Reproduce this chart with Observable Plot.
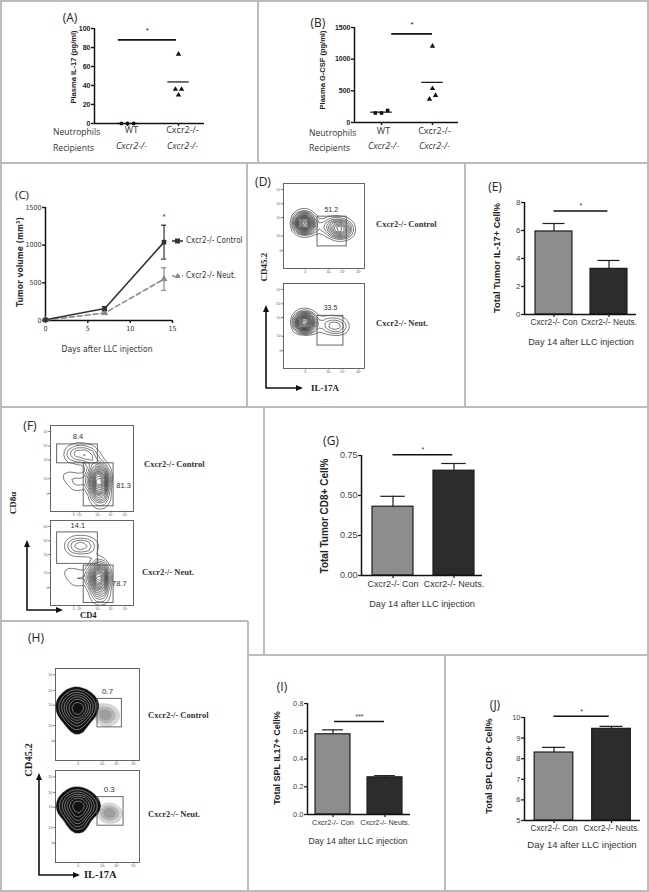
<!DOCTYPE html>
<html><head><meta charset="utf-8">
<script src="https://cdn.jsdelivr.net/npm/d3@7"></script>
<script src="https://cdn.jsdelivr.net/npm/@observablehq/plot@0.6"></script>
<style>
body{margin:0;background:#fff;}
#root{position:relative;width:649px;height:892px;overflow:hidden;background:#fff;}
.ln{position:absolute;background:#bcbcbc;}
.t{position:absolute;white-space:nowrap;line-height:1;}
</style></head><body><div id="root"></div>
<script>
const SANS = '"Liberation Sans", Arial, Helvetica, sans-serif';
const NARROW = '"Liberation Sans Narrow", "Arial Narrow", "DejaVu Sans Condensed", sans-serif';
const SERIF = '"Liberation Serif", "Times New Roman", serif';
const OPEN = '"Open Sans", "Noto Sans", sans-serif';

// ---------------- DATA ----------------
// (A) / (B) plasma cytokines
const donorGroups = ["WT", "Cxcr2-/-"];
const recipientGroups = ["Cxcr2-/-", "Cxcr2-/-"];
const il17WT = [0, 0, 0];
const il17KO = [73, 36, 36, 30];
const gcsfWT = [190, 150, 150];
const gcsfKO = [1205, 537, 427, 368];
const il17Ticks = [0, 20, 40, 60, 80, 100];
const gcsfTicks = [0, 500, 1000, 1500];
const il17Sig = [{from: -0.18, to: 0.96, y: 88, label: "*"}];
const gcsfSig = [{from: 0.2, to: 1.0, y: 1400, label: "*"}];

// (C) tumor growth
const days = [0, 7, 14];
const controlVolume = [10, 160, 1040];
const controlErr = [8, 25, 225];
const neutVolume = [5, 100, 550];
const neutErr = [5, 20, 150];
const volumeTicks = [0, 500, 1000, 1500];
const dayTicks = [0, 5, 10, 15];
const seriesNames = ["Cxcr2-/- Control", "Cxcr2-/- Neut."];

// bar panels (E, G, I, J)
const barCats = ["Cxcr2-/- Con", "Cxcr2-/- Neuts."];
const tumorIL17 = [5.93, 3.26], tumorIL17Err = [0.57, 0.6];
const tumorCD8 = [0.43, 0.655], tumorCD8Err = [0.065, 0.045];
const splIL17 = [0.578, 0.268], splIL17Err = [0.032, 0.012];
const splCD8 = [8.3, 9.45], splCD8Err = [0.25, 0.12];
const tumorIL17Ticks = [0, 2, 4, 6, 8];
const tumorCD8Ticks = [0, 0.25, 0.5, 0.75];
const splIL17Ticks = [0, 0.2, 0.4, 0.6, 0.8];
const splCD8Ticks = [5, 6, 7, 8, 9, 10];
const tumorIL17Sig = [{from: 0, to: 0.98, y: 7.4, label: "*"}];
const tumorCD8Sig = [{from: 0, to: 0.98, y: 0.755, label: "*"}];
const splIL17Sig = [{from: 0.03, to: 0.99, y: 0.67, label: "***"}];
const splCD8Sig = [{from: 0, to: 0.96, y: 10.06, label: "*"}];

// flow cytometry (display units 0-100 on each axis) : [x, y, weight]
const flowXTicks = [[27, "0"], [56, "10³"], [73, "10⁴"], [93, "10⁵"]];
const flowYTicks = [[21, "0"], [38, "10²"], [60, "10³"], [76, "10⁴"], [93, "10⁵"]];
const cd4XTicks = [[28, "0"], [35, "10²"], [57, "10³"], [73, "10⁴"], [90, "10⁵"]];
const dControlCells = [[22,54,6],[28,53,6],[25,50,4],[26,57,4],[36,51,1],[44,50,1],[55,49,2],[62,48,3.5],[68,47,4.5],[74,46,4.5],[78,47,2]];
const dNeutCells = [[23,55,6],[29,54,6],[26,51,4],[26,58,4],[36,53,0.8],[44,52,0.8],[54,52,1.5],[60,51,2],[66,50,2],[72,50,1.5]];
const dControlGate = [[42, 78, 26, 61, "51.2", 59, 69]];
const dNeutGate = [[42, 74, 27, 62, "33.5", 58, 72]];
const fControlCells = [[25,67,1.5],[35,68,2],[45,66,2],[52,64,1],[57,50,3],[58,40,5],[58,30,5],[59,20,3],[60,12,1.5],[52,38,2],[64,38,2],[18,42,0.6],[28,38,0.8],[38,35,0.8],[30,28,0.5]];
const fNeutCells = [[25,70,1.2],[33,70,2],[42,70,2],[50,69,1],[58,45,3],[58,36,5],[58,27,5],[59,17,3],[60,9,1.2],[52,33,2],[64,33,2],[18,40,0.6],[28,36,0.8],[38,33,0.8],[30,26,0.5]];
const fControlGates = [[8, 57, 56, 78, "8.4", 33, 87], [40, 76, 6, 56, "81.3", 88, 30]];
const fNeutGates = [[8, 57, 49, 86, "14.1", 33, 94], [40, 76, 3, 47, "78.7", 83, 26]];
const hControlCells = [[14,64,2],[26,64,3],[38,64,2],[19,53,3],[31,53,3],[25,43,2.5],[24,72,1],[10,56,1],[42,56,1.5],[26,34,0.8]];
const hNeutCells = [[15,67,2],[27,67,3],[39,67,2],[20,56,3],[32,56,3],[26,46,2.5],[25,75,1],[11,59,1],[43,59,1.5],[27,37,0.8]];
const hControlSpeck = [[55,50,1],[62,53,1],[70,48,0.8],[60,44,0.8],[48,55,0.6]];
const hNeutSpeck = [[58,55,0.6],[66,56,0.6],[72,52,0.5],[62,49,0.4]];
const hControlGate = [[50, 79, 36, 67, "0.7", 62, 75]];
const hNeutGate = [[50, 81, 40, 71, "0.3", 64, 79]];

// ---------------- HELPERS ----------------
const root = document.getElementById("root");
function place(node, x, y) {
  node.style.position = "absolute"; node.style.left = x + "px"; node.style.top = y + "px";
  root.appendChild(node);
}
function txt(s, x, y, o = {}) {
  const d = document.createElement("div");
  d.className = "t"; d.textContent = s;
  Object.assign(d.style, {left: x + "px", top: y + "px", fontSize: (o.size || 9) + "px",
    fontWeight: o.weight || "normal", fontStyle: o.style || "normal", fontFamily: o.family || SANS,
    color: o.color || "#222"});
  const a = o.anchor || "middle";
  const tx = a === "start" ? "0" : a === "end" ? "-100%" : "-50%";
  d.style.transform = `translate(${tx},-50%)` + (o.rotate ? ` rotate(${o.rotate}deg)` : "");
  root.appendChild(d);
}
function hline(x1, x2, y) { const d = document.createElement("div"); d.className = "ln";
  Object.assign(d.style, {left: x1 + "px", top: (y - 0.75) + "px", width: (x2 - x1) + "px", height: "1.5px"}); root.appendChild(d); }
function vline(x, y1, y2) { const d = document.createElement("div"); d.className = "ln";
  Object.assign(d.style, {left: (x - 0.75) + "px", top: y1 + "px", width: "1.5px", height: (y2 - y1) + "px"}); root.appendChild(d); }
const baseStyle = f => ({fontFamily: f, background: "transparent", overflow: "visible", color: "#222"});
const intFmt = d3.format("d");

// ---------------- PANEL FRAMES ----------------
hline(0, 649, 1); hline(0, 649, 891); vline(1, 0, 892); vline(648, 0, 892);
hline(0, 649, 163); hline(0, 649, 407);
vline(258, 0, 163);
vline(247, 163, 407); vline(465, 163, 407);
hline(0, 248, 621); vline(264, 407, 655); hline(248, 649, 655);
vline(248, 621, 891); vline(445, 655, 891);

// ---------------- (A) (B) ----------------
function swarmOffsets(vals, pxPerUnit, step) {
  const order = vals.map((v, i) => i).sort((a, b) => vals[a] - vals[b]);
  const offs = new Array(vals.length).fill(0);
  let cluster = [order[0]];
  const flush = () => { cluster.forEach((k, j) => offs[k] = (j - (cluster.length - 1) / 2) * step); };
  for (let j = 1; j < order.length; j++) {
    if ((vals[order[j]] - vals[order[j - 1]]) * pxPerUnit < 4) cluster.push(order[j]);
    else { flush(); cluster = [order[j]]; }
  }
  flush();
  return offs;
}
function dotPanel(o) {
  const pxPerUnit = (o.yZero - o.yTop) / o.yMax;
  const pts = [];
  o.values.forEach((vals, g) => {
    const offs = swarmOffsets(vals, pxPerUnit, 0.12);
    vals.forEach((v, i) => pts.push({x: g + offs[i], v, sym: o.symbols[g]}));
  });
  const means = o.values.map((vals, g) => ({g, v: d3.mean(vals)}));
  const axisAt = (o.axisX0 - o.gx0) / (o.gx1 - o.gx0);
  const svg = Plot.plot({
    width: o.w, height: o.h,
    marginLeft: o.axisX0 - o.left, marginRight: o.left + o.w - o.axisX1,
    marginTop: o.yTop - o.top, marginBottom: o.top + o.h - o.yZero,
    x: {domain: [0, 1], range: [o.gx0 - o.left, o.gx1 - o.left]},
    y: {domain: [0, o.yMax]},
    style: baseStyle(SANS),
    marks: [
      Plot.ruleX([axisAt], {strokeWidth: 1.5, stroke: "#111"}),
      Plot.ruleY([0], {strokeWidth: 1.5, stroke: "#111"}),
      Plot.axisY({ticks: o.yTicks, tickFormat: intFmt, tickSize: 3, tickPadding: 1, fontSize: 7, fontWeight: "bold", strokeWidth: 1.5, label: null}),
      Plot.axisX({ticks: [0, 1], tickSize: 3, tickFormat: () => "", strokeWidth: 1.5, label: null}),
      Plot.ruleY(means, {x1: d => d.g - 0.21, x2: d => d.g + 0.21, y: "v", strokeWidth: 1.2, stroke: "#111"}),
      Plot.dot(pts, {x: "x", y: "v", symbol: "sym", fill: "#111", r: 2}),
      Plot.ruleY(o.sig, {x1: "from", x2: "to", y: "y", strokeWidth: 1.8, stroke: "#111"}),
      Plot.text(o.sig, {x: d => (d.from + d.to) / 2, y: "y", text: "label", dy: -9, fontSize: 8}),
      Plot.text(donorGroups, {x: (d, i) => i, frameAnchor: "bottom", dy: o.dy1, dx: o.tdx, text: d => d,
        fontSize: 9, fontFamily: OPEN, fill: "#333", fontStyle: (d, i) => i ? "italic" : "normal"}),
      Plot.text(recipientGroups, {x: (d, i) => i, frameAnchor: "bottom", dy: o.dy2, dx: o.tdx, text: d => d,
        fontSize: 9, fontFamily: OPEN, fill: "#333", fontStyle: "italic"})
    ]
  });
  place(svg, o.left, o.top);
}
dotPanel({left: 0, top: 0, w: 258, h: 163, axisX0: 94, axisX1: 204, yTop: 28, yZero: 123,
  gx0: 127, gx1: 178, yMax: 100, yTicks: il17Ticks, values: [il17WT, il17KO], symbols: ["circle", "triangle"],
  sig: il17Sig, dy1: 9, dy2: 25, tdx: 4});
dotPanel({left: 258, top: 0, w: 390, h: 163, axisX0: 354, axisX1: 458, yTop: 27, yZero: 122,
  gx0: 381, gx1: 432, yMax: 1500, yTicks: gcsfTicks, values: [gcsfWT, gcsfKO], symbols: ["square", "triangle"],
  sig: gcsfSig, dy1: 11, dy2: 26, tdx: 2});
txt("(A)", 70, 18, {size: 12, family: OPEN});
txt("(B)", 318, 23, {size: 12, family: OPEN});
txt("Plasma IL-17 (pg/ml)", 74, 67, {size: 7.5, weight: "bold", rotate: -90});
txt("Plasma G-CSF (pg/ml)", 323, 70, {size: 7.5, weight: "bold", rotate: -90});
txt("Neutrophils", 53, 132, {size: 8.6, family: OPEN, anchor: "start", color: "#333"});
txt("Recipients", 53, 148, {size: 8.6, family: OPEN, anchor: "start", color: "#333"});
txt("Neutrophils", 309, 133, {size: 8.6, family: OPEN, anchor: "start", color: "#333"});
txt("Recipients", 309, 148, {size: 8.6, family: OPEN, anchor: "start", color: "#333"});

// ---------------- (C) ----------------
{
  const ctl = days.map((d, i) => ({day: d, v: controlVolume[i], e: controlErr[i]}));
  const neu = days.map((d, i) => ({day: d, v: neutVolume[i], e: neutErr[i]}));
  const errMarks = (data, stroke) => [
    Plot.ruleX(data, {x: "day", y1: d => d.v - d.e, y2: d => d.v + d.e, stroke, strokeWidth: 1.2}),
    Plot.ruleY(data, {x1: d => d.day - 0.3, x2: d => d.day + 0.3, y: d => d.v + d.e, stroke, strokeWidth: 1.2}),
    Plot.ruleY(data, {x1: d => d.day - 0.3, x2: d => d.day + 0.3, y: d => d.v - d.e, stroke, strokeWidth: 1.2})
  ];
  const svg = Plot.plot({
    width: 247, height: 244, marginLeft: 45, marginRight: 75, marginTop: 44, marginBottom: 87,
    x: {domain: [0, 15]}, y: {domain: [0, 1500]},
    style: baseStyle(NARROW),
    marks: [
      Plot.ruleX([0], {strokeWidth: 1.5, stroke: "#111"}),
      Plot.ruleY([0], {strokeWidth: 1.5, stroke: "#111"}),
      Plot.axisY({ticks: volumeTicks, tickFormat: intFmt, tickSize: 3, tickPadding: 1, fontSize: 7, fontFamily: NARROW, strokeWidth: 1.5, label: null, fill: "#333"}),
      Plot.axisX({ticks: dayTicks, tickFormat: intFmt, tickSize: 3, tickPadding: 3, fontSize: 7, fontFamily: NARROW, strokeWidth: 1.5, label: null, fill: "#333"}),
      ...errMarks(neu, "#8a8a8a"),
      ...errMarks(ctl, "#333"),
      Plot.line(neu, {x: "day", y: "v", stroke: "#8a8a8a", strokeWidth: 1.6, strokeDasharray: "5,3"}),
      Plot.line(ctl, {x: "day", y: "v", stroke: "#333", strokeWidth: 1.6}),
      Plot.dot(neu, {x: "day", y: "v", symbol: "triangle", fill: "#8a8a8a", r: 2.6}),
      Plot.dot(ctl, {x: "day", y: "v", symbol: "square", fill: "#333", r: 2.6}),
      Plot.text(ctl.slice(-1), {x: "day", y: d => d.v + d.e, text: () => "*", dy: -8, fontSize: 7, fill: "#333"})
    ]
  });
  place(svg, 0, 163);
  // legend
  const lg = d3.create("svg").attr("width", 16).attr("height", 50);
  lg.append("line").attr("x1", 1).attr("x2", 12).attr("y1", 5).attr("y2", 5).attr("stroke", "#333").attr("stroke-width", 1.6);
  lg.append("rect").attr("x", 4).attr("y", 2.5).attr("width", 5).attr("height", 5).attr("fill", "#333");
  lg.append("line").attr("x1", 1).attr("x2", 12).attr("y1", 40).attr("y2", 40).attr("stroke", "#8a8a8a").attr("stroke-width", 1.6).attr("stroke-dasharray", "3,2");
  lg.append("path").attr("d", "M6.5,36.8L9.5,42L3.5,42Z").attr("fill", "#8a8a8a");
  place(lg.node(), 171, 236);
  txt(seriesNames[0], 186, 241, {size: 8, family: NARROW, anchor: "start", color: "#333"});
  txt(seriesNames[1], 186, 276, {size: 8, family: NARROW, anchor: "start", color: "#333"});
  txt("(C)", 22, 195, {size: 11.5, family: OPEN});
  txt("Tumor volume (mm³)", 20, 262, {size: 8.5, family: NARROW, weight: "bold", rotate: -90, color: "#333"});
  txt("Days after LLC injection", 107, 349, {size: 8.5, family: NARROW, color: "#333"});
}

// ---------------- flow cytometry helper ----------------
function flowPlot(o) {
  const [fx, fy, fw, fh] = o.frame;
  const ml = 9, mb = 7, mt = 1, mr = 1;
  const xt = o.xt || flowXTicks, yt = o.yt || flowYTicks;
  const xMap = new Map(xt), yMap = new Map(yt);
  const gates = o.gates.map(g => ({x1: g[0], x2: g[1], y1: g[2], y2: g[3], label: g[4], lx: g[5], ly: g[6]}));
  const cells = o.cells.map(c => ({x: c[0], y: c[1], w: c[2]}));
  const marks = [
    Plot.axisX({ticks: xt.map(d => d[0]), tickFormat: d => xMap.get(d), tickSize: 1.5, tickPadding: 0.5, fontSize: 3.4, label: null, stroke: "#666", fill: "#555"}),
    Plot.axisY({ticks: yt.map(d => d[0]), tickFormat: d => yMap.get(d), tickSize: 1.5, tickPadding: 0.5, fontSize: 3.4, label: null, stroke: "#666", fill: "#555"})
  ];
  if (o.speck) {
    marks.push(Plot.density(o.speck.map(c => ({x: c[0], y: c[1], w: c[2]})), {x: "x", y: "y", weight: "w", bandwidth: 4, thresholds: 4, fill: "#444", fillOpacity: 0.22, stroke: "#777", strokeWidth: 0.3, strokeDasharray: "0.8,1.2", clip: true}));
  }
  if (o.filled) {
    marks.push(Plot.density(cells, {x: "x", y: "y", weight: "w", bandwidth: o.bw, thresholds: o.th, fill: "#111", stroke: "#eee", strokeWidth: 0.45, clip: true}));
  } else {
    marks.push(Plot.density(cells, {x: "x", y: "y", weight: "w", bandwidth: o.bw, thresholds: o.th, stroke: "#111", strokeWidth: 0.55, clip: true}));
  }
  marks.push(
    Plot.rect(gates, {x1: "x1", x2: "x2", y1: "y1", y2: "y2", fill: "none", stroke: "#555", strokeWidth: 0.9}),
    Plot.text(gates, {x: "lx", y: "ly", text: "label", fontSize: o.pctSize || 7.5, fill: "#333", fontFamily: SANS}),
    Plot.frame({stroke: "#555", strokeWidth: 0.9})
  );
  const svg = Plot.plot({
    width: fw + ml + mr, height: fh + mt + mb, marginLeft: ml, marginRight: mr, marginTop: mt, marginBottom: mb,
    x: {domain: [0, 100]}, y: {domain: [0, 100]}, style: baseStyle(SANS), marks
  });
  place(svg, fx - ml, fy - mt);
}
const ov = d3.select(root).append("svg").attr("width", 649).attr("height", 892)
  .style("position", "absolute").style("left", "0px").style("top", "0px").style("pointer-events", "none");
function axesArrows(cx, cy, ytop, xr) {
  ov.append("path").attr("d", `M${cx},${cy}L${cx},${ytop + 6}M${cx - 0.75},${cy}L${xr - 6},${cy}`).attr("stroke", "#111").attr("stroke-width", 1.6).attr("fill", "none");
  ov.append("path").attr("d", `M${cx},${ytop}L${cx + 3},${ytop + 7}L${cx - 3},${ytop + 7}Z`).attr("fill", "#111");
  ov.append("path").attr("d", `M${xr},${cy}L${xr - 7},${cy - 3}L${xr - 7},${cy + 3}Z`).attr("fill", "#111");
}

// ---------------- (D) ----------------
flowPlot({frame: [283, 183, 81, 85], cells: dControlCells, gates: dControlGate, bw: 3.6, th: 18, pctSize: 7});
flowPlot({frame: [283, 283, 81, 85], cells: dNeutCells, gates: dNeutGate, bw: 3.6, th: 18, pctSize: 7});
txt("(D)", 263, 182, {size: 12, family: OPEN});
txt("Cxcr2-/- Control", 376, 224, {size: 8.5, family: SERIF, weight: "bold", anchor: "start", color: "#333"});
txt("Cxcr2-/- Neut.", 376, 323, {size: 8.5, family: SERIF, weight: "bold", anchor: "start", color: "#333"});
axesArrows(266, 388, 305, 303);
txt("CD45.2", 264, 267, {size: 9, family: SERIF, weight: "bold", rotate: -90});
txt("IL-17A", 311, 388, {size: 9, family: SERIF, weight: "bold", anchor: "start"});

// ---------------- (F) ----------------
flowPlot({frame: [50, 425, 83, 86], cells: fControlCells, gates: fControlGates, xt: cd4XTicks, bw: 4.2, th: 16});
flowPlot({frame: [50, 520, 83, 85], cells: fNeutCells, gates: fNeutGates, xt: cd4XTicks, bw: 4.2, th: 16});
txt("(F)", 30, 426, {size: 12, family: OPEN});
txt("Cxcr2-/- Control", 144, 464, {size: 8.5, family: SERIF, weight: "bold", anchor: "start", color: "#333"});
txt("Cxcr2-/- Neut.", 142, 572, {size: 8.5, family: SERIF, weight: "bold", anchor: "start", color: "#333"});
axesArrows(27, 610, 540, 63);
txt("CD8α", 13, 503, {size: 9, family: SERIF, weight: "bold", rotate: -90});
txt("CD4", 80, 615, {size: 8.5, family: SERIF, weight: "bold", anchor: "start"});

// ---------------- (H) ----------------
flowPlot({frame: [55, 668, 84, 92], cells: hControlCells, speck: hControlSpeck, gates: hControlGate, bw: 5, th: 8, filled: true, pctSize: 8});
flowPlot({frame: [55, 770, 84, 92], cells: hNeutCells, speck: hNeutSpeck, gates: hNeutGate, bw: 5, th: 8, filled: true, pctSize: 8});
txt("(H)", 36, 638, {size: 12, family: OPEN});
txt("Cxcr2-/- Control", 148, 715, {size: 8.5, family: SERIF, weight: "bold", anchor: "start", color: "#333"});
txt("Cxcr2-/- Neut.", 148, 814, {size: 8.5, family: SERIF, weight: "bold", anchor: "start", color: "#333"});
axesArrows(39, 875, 773, 80);
txt("CD45.2", 29, 760, {size: 10.5, family: SERIF, weight: "bold", rotate: -90});
txt("IL-17A", 84, 875, {size: 10.5, family: SERIF, weight: "bold", anchor: "start"});

// ---------------- bar panels ----------------
function barPanel(o) {
  const [c0, c1] = o.centers;
  const unit = c1 - c0;
  const dom = [(o.x0 - c0) / unit, (o.x1 - c0) / unit];
  const bars = o.values.map((v, i) => ({i, v, e: o.errs[i]}));
  const yMin = o.yDomain[0];
  const [bx, by, bw, bh] = o.box;
  const svg = Plot.plot({
    width: bw, height: bh,
    marginLeft: o.x0 - bx, marginRight: bx + bw - o.x1,
    marginTop: o.yTop - by, marginBottom: by + bh - o.yZero,
    x: {domain: dom}, y: {domain: o.yDomain},
    style: baseStyle(SANS),
    marks: [
      Plot.rectY(bars.slice(0, 1), {x1: d => d.i - 0.336, x2: d => d.i + 0.336, y1: yMin, y2: "v", fill: "#8d8d8d", stroke: "#1c1c1c", strokeWidth: 1.2}),
      Plot.rectY(bars.slice(1), {x1: d => d.i - 0.336, x2: d => d.i + 0.336, y1: yMin, y2: "v", fill: "#2c2c2c", stroke: "#1c1c1c", strokeWidth: 1.2}),
      Plot.ruleX(bars, {x: "i", y1: "v", y2: d => d.v + d.e, stroke: "#1c1c1c", strokeWidth: 1.2}),
      Plot.ruleY(bars, {x1: d => d.i - 0.2, x2: d => d.i + 0.2, y: d => d.v + d.e, stroke: "#1c1c1c", strokeWidth: 1.2}),
      Plot.ruleX([dom[0]], {stroke: "#111", strokeWidth: 1.5}),
      Plot.ruleY([yMin], {stroke: "#111", strokeWidth: 1.5}),
      Plot.axisY({ticks: o.ticks, tickFormat: o.fmt, tickSize: 3, tickPadding: 1, fontSize: o.tickSize, fill: "#444", strokeWidth: 1.3, label: null}),
      Plot.axisX({ticks: [0, 1], tickFormat: i => barCats[i], tickSize: 3, tickPadding: 2, fontSize: o.catSize, fill: "#333", strokeWidth: 1.3, label: null}),
      Plot.ruleY(o.sig, {x1: "from", x2: "to", y: "y", stroke: "#111", strokeWidth: 1.5}),
      Plot.text(o.sig, {x: d => (d.from + d.to) / 2, y: "y", text: "label", dy: -5, fontSize: 7, fill: "#333"})
    ]
  });
  place(svg, bx, by);
  txt(o.title, o.titlePos[0], o.titlePos[1], {size: 12, family: OPEN});
  txt(o.yLabel, o.yLabelPos[0], o.yLabelPos[1], {size: o.yLabelSize, weight: "bold", rotate: -90, color: "#222"});
  txt("Day 14 after LLC injection", o.dayPos[0], o.dayPos[1], {size: o.daySize, color: "#333"});
}
barPanel({box: [465, 163, 183, 244], x0: 524, x1: 636, yTop: 202, yZero: 314, centers: [553.5, 608.5],
  values: tumorIL17, errs: tumorIL17Err, yDomain: [0, 8], ticks: tumorIL17Ticks, fmt: intFmt,
  tickSize: 8, catSize: 8.3, sig: tumorIL17Sig, title: "(E)", titlePos: [495, 187],
  yLabel: "Total Tumor IL-17+ Cell%", yLabelPos: [498, 258], yLabelSize: 9.3, dayPos: [581, 343], daySize: 9.2});
barPanel({box: [264, 407, 384, 248], x0: 361, x1: 482, yTop: 455, yZero: 575, centers: [392.5, 453.5],
  values: tumorCD8, errs: tumorCD8Err, yDomain: [0, 0.75], ticks: tumorCD8Ticks, fmt: d3.format(".2f"),
  tickSize: 9, catSize: 9, sig: tumorCD8Sig, title: "(G)", titlePos: [331, 441],
  yLabel: "Total Tumor CD8+ Cell%", yLabelPos: [325, 516], yLabelSize: 10, dayPos: [422, 605], daySize: 9.2});
barPanel({box: [248, 655, 197, 236], x0: 307, x1: 410, yTop: 703, yZero: 814, centers: [332.5, 384.5],
  values: splIL17, errs: splIL17Err, yDomain: [0, 0.8], ticks: splIL17Ticks, fmt: d3.format(".1f"),
  tickSize: 7.5, catSize: 7.4, sig: splIL17Sig, title: "(I)", titlePos: [282, 687],
  yLabel: "Total SPL IL17+ Cell%", yLabelPos: [277, 758], yLabelSize: 9, dayPos: [358, 841], daySize: 8.6});
barPanel({box: [445, 655, 203, 236], x0: 524, x1: 640, yTop: 717, yZero: 820, centers: [553.5, 611],
  values: splCD8, errs: splCD8Err, yDomain: [5, 10], ticks: splCD8Ticks, fmt: intFmt,
  tickSize: 7.5, catSize: 8.3, sig: splCD8Sig, title: "(J)", titlePos: [495, 705],
  yLabel: "Total SPL CD8+ Cell%", yLabelPos: [490, 766], yLabelSize: 9.2, dayPos: [582, 845], daySize: 9.5});
</script></body></html>
